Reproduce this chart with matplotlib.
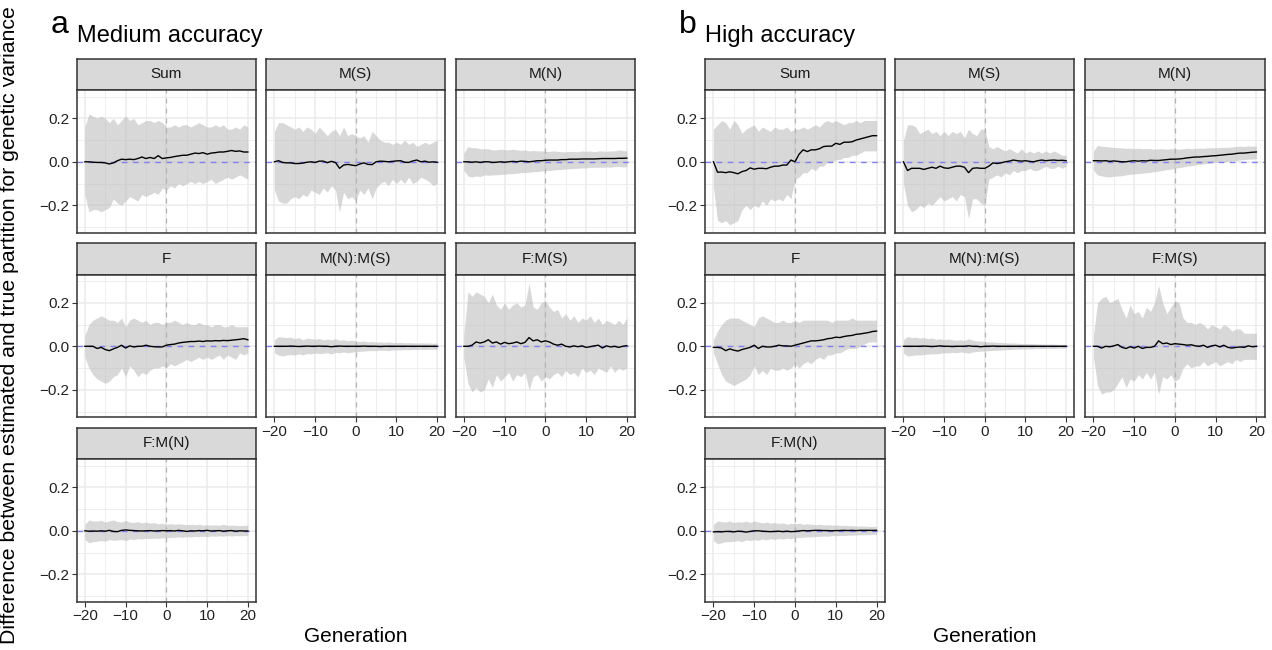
import numpy as np
import matplotlib
matplotlib.use("Agg")
import matplotlib.pyplot as plt
from matplotlib.ticker import FixedLocator

plt.rcParams['font.family'] = ['Liberation Sans', 'DejaVu Sans']

generations = list(range(-20, 21))
facet_names = ["Sum", "M(S)", "M(N)", "F", "M(N):M(S)", "F:M(S)", "F:M(N)"]
group_titles = ["Medium accuracy", "High accuracy"]
group_letters = ["a", "b"]

# ---------------- Medium accuracy ----------------
med_sum_mean = [0.00, 0.00, -0.002, -0.003, -0.003, -0.005, -0.010, -0.005, 0.005, 0.012, 0.010, 0.012, 0.010, 0.015, 0.022, 0.015, 0.020, 0.015, 0.028, 0.015, 0.018,
                0.020, 0.024, 0.027, 0.030, 0.030, 0.035, 0.040, 0.038, 0.042, 0.035, 0.040, 0.042, 0.045, 0.045, 0.048, 0.052, 0.048, 0.050, 0.045, 0.045]
med_sum_hi = [0.16, 0.22, 0.21, 0.20, 0.21, 0.20, 0.18, 0.20, 0.17, 0.19, 0.21, 0.19, 0.20, 0.17, 0.18, 0.19, 0.19, 0.18, 0.19, 0.18, 0.16,
              0.16, 0.17, 0.16, 0.17, 0.17, 0.16, 0.17, 0.18, 0.17, 0.16, 0.16, 0.17, 0.16, 0.17, 0.15, 0.15, 0.16, 0.15, 0.17, 0.16]
med_sum_lo = [-0.15, -0.23, -0.22, -0.22, -0.23, -0.22, -0.21, -0.17, -0.19, -0.20, -0.18, -0.16, -0.17, -0.18, -0.15, -0.16, -0.15, -0.14, -0.15, -0.12, -0.13,
              -0.11, -0.12, -0.10, -0.11, -0.10, -0.09, -0.10, -0.09, -0.10, -0.09, -0.08, -0.10, -0.09, -0.08, -0.07, -0.08, -0.07, -0.06, -0.07, -0.08]

med_ms_mean = [0.00, 0.005, -0.003, -0.005, -0.005, -0.008, -0.008, -0.006, -0.002, 0.000, -0.003, 0.003, 0.003, -0.004, 0.002, -0.003, -0.030, -0.015, -0.012, -0.015, -0.018,
               -0.010, -0.005, -0.012, -0.013, 0.000, 0.003, 0.002, 0.000, 0.002, 0.004, 0.005, -0.002, -0.003, 0.004, 0.008, 0.000, 0.003, -0.002, 0.000, -0.002]
med_ms_hi = [0.14, 0.18, 0.18, 0.17, 0.16, 0.15, 0.16, 0.14, 0.16, 0.15, 0.13, 0.16, 0.14, 0.12, 0.14, 0.15, 0.12, 0.16, 0.12, 0.13, 0.12,
             0.11, 0.12, 0.09, 0.14, 0.12, 0.10, 0.09, 0.09, 0.08, 0.09, 0.08, 0.10, 0.08, 0.09, 0.07, 0.08, 0.09, 0.08, 0.09, 0.10]
med_ms_lo = [-0.13, -0.18, -0.19, -0.19, -0.17, -0.16, -0.17, -0.15, -0.16, -0.13, -0.14, -0.15, -0.12, -0.14, -0.11, -0.13, -0.23, -0.14, -0.17, -0.16, -0.18,
             -0.13, -0.15, -0.12, -0.17, -0.12, -0.10, -0.09, -0.11, -0.08, -0.10, -0.08, -0.10, -0.07, -0.10, -0.09, -0.07, -0.08, -0.09, -0.11, -0.10]

med_mn_mean = [0.000, 0.000, -0.002, 0.000, -0.003, 0.000, 0.000, -0.003, -0.002, 0.000, -0.002, 0.000, 0.002, 0.000, 0.003, 0.002, 0.000, 0.002, 0.005, 0.005, 0.007,
               0.008, 0.008, 0.008, 0.010, 0.010, 0.012, 0.012, 0.012, 0.013, 0.013, 0.013, 0.013, 0.014, 0.015, 0.015, 0.015, 0.015, 0.016, 0.016, 0.017]
med_mn_hi = [0.04, 0.07, 0.065, 0.065, 0.06, 0.06, 0.06, 0.055, 0.055, 0.058, 0.055, 0.055, 0.058, 0.055, 0.052, 0.055, 0.05, 0.052, 0.05, 0.05, 0.048,
             0.048, 0.05, 0.048, 0.046, 0.046, 0.048, 0.047, 0.046, 0.05, 0.048, 0.05, 0.047, 0.05, 0.05, 0.048, 0.05, 0.05, 0.055, 0.052, 0.05]
med_mn_lo = [-0.04, -0.065, -0.07, -0.065, -0.068, -0.06, -0.062, -0.06, -0.06, -0.058, -0.057, -0.055, -0.055, -0.052, -0.05, -0.05, -0.048, -0.046, -0.045, -0.042, -0.04,
             -0.04, -0.038, -0.036, -0.035, -0.033, -0.032, -0.03, -0.03, -0.028, -0.028, -0.026, -0.025, -0.025, -0.025, -0.024, -0.025, -0.022, -0.022, -0.024, -0.022]

med_f_mean = [0.000, 0.000, 0.000, -0.010, -0.005, -0.015, -0.020, -0.012, -0.005, 0.005, -0.008, 0.002, -0.003, 0.000, 0.000, 0.005, 0.000, -0.002, -0.003, -0.003, 0.005,
              0.008, 0.010, 0.015, 0.018, 0.020, 0.022, 0.022, 0.024, 0.022, 0.025, 0.024, 0.026, 0.025, 0.027, 0.026, 0.028, 0.030, 0.032, 0.035, 0.030]
med_f_hi = [0.05, 0.10, 0.12, 0.13, 0.14, 0.13, 0.12, 0.12, 0.11, 0.13, 0.09, 0.12, 0.13, 0.12, 0.11, 0.12, 0.10, 0.11, 0.11, 0.10, 0.11,
            0.11, 0.12, 0.11, 0.10, 0.11, 0.10, 0.10, 0.11, 0.10, 0.10, 0.09, 0.10, 0.10, 0.09, 0.09, 0.10, 0.09, 0.09, 0.09, 0.09]
med_f_lo = [-0.05, -0.10, -0.13, -0.15, -0.16, -0.17, -0.16, -0.14, -0.13, -0.10, -0.14, -0.09, -0.11, -0.14, -0.12, -0.13, -0.11, -0.10, -0.10, -0.09, -0.10,
            -0.08, -0.09, -0.08, -0.07, -0.06, -0.07, -0.06, -0.05, -0.06, -0.05, -0.06, -0.05, -0.04, -0.06, -0.04, -0.05, -0.06, -0.03, -0.04, -0.03]

med_mnms_mean = [0, 0, 0, 0, 0.001, 0, -0.001, 0, 0.001, 0, 0, 0.001, 0, 0, -0.002, 0, 0.001, 0, 0, 0, 0,
                 0, 0.001, 0, 0, 0, -0.001, 0, 0, 0, 0, 0, 0, 0, 0, 0, 0, 0, 0, 0, 0]
med_mnms_hi = [0.03, 0.045, 0.042, 0.04, 0.042, 0.035, 0.04, 0.03, 0.038, 0.035, 0.032, 0.036, 0.03, 0.033, 0.03, 0.035, 0.028, 0.03, 0.026, 0.028, 0.025,
               0.022, 0.024, 0.02, 0.022, 0.02, 0.02, 0.018, 0.02, 0.018, 0.017, 0.018, 0.016, 0.017, 0.016, 0.015, 0.016, 0.015, 0.015, 0.014, 0.015]
med_mnms_lo = [-0.03, -0.04, -0.045, -0.04, -0.038, -0.04, -0.035, -0.04, -0.033, -0.035, -0.03, -0.033, -0.032, -0.03, -0.035, -0.028, -0.03, -0.026, -0.03, -0.027, -0.025,
               -0.023, -0.022, -0.02, -0.02, -0.02, -0.018, -0.018, -0.02, -0.017, -0.016, -0.017, -0.015, -0.016, -0.015, -0.015, -0.014, -0.015, -0.014, -0.013, -0.014]

med_fms_mean = [0.000, 0.000, 0.005, 0.020, 0.015, 0.020, 0.030, 0.015, 0.020, 0.010, 0.018, 0.012, 0.015, 0.020, 0.012, 0.018, 0.040, 0.025, 0.030, 0.020, 0.025,
                0.020, 0.010, 0.005, 0.010, 0.000, -0.003, 0.002, -0.002, 0.002, -0.005, -0.002, 0.002, 0.005, -0.008, 0.002, -0.003, 0.000, -0.005, 0.000, 0.003]
med_fms_hi = [0.05, 0.25, 0.23, 0.25, 0.24, 0.23, 0.20, 0.24, 0.19, 0.17, 0.20, 0.17, 0.19, 0.20, 0.18, 0.19, 0.29, 0.18, 0.17, 0.20, 0.21,
              0.18, 0.16, 0.17, 0.13, 0.15, 0.12, 0.14, 0.11, 0.13, 0.12, 0.14, 0.11, 0.13, 0.10, 0.12, 0.11, 0.10, 0.12, 0.10, 0.13]
med_fms_lo = [-0.05, -0.17, -0.21, -0.19, -0.21, -0.20, -0.15, -0.19, -0.13, -0.16, -0.14, -0.12, -0.16, -0.13, -0.14, -0.12, -0.20, -0.14, -0.13, -0.16, -0.14,
              -0.15, -0.13, -0.12, -0.14, -0.11, -0.13, -0.12, -0.14, -0.10, -0.12, -0.11, -0.13, -0.10, -0.11, -0.12, -0.09, -0.12, -0.10, -0.11, -0.10]

med_fmn_mean = [0, -0.002, -0.001, -0.002, 0, -0.002, 0.002, -0.003, -0.004, 0.002, 0.004, 0.002, 0.001, 0, -0.001, 0, 0.001, -0.001, 0, 0.001, 0,
                0.001, -0.001, 0.002, 0, -0.003, 0, -0.001, 0.001, 0, 0.002, -0.001, 0, 0.001, -0.002, 0, 0.001, -0.002, 0, -0.001, -0.001]
med_fmn_hi = [0.03, 0.05, 0.045, 0.045, 0.048, 0.04, 0.045, 0.05, 0.042, 0.04, 0.048, 0.04, 0.038, 0.042, 0.036, 0.04, 0.035, 0.038, 0.032, 0.035, 0.03,
              0.033, 0.03, 0.032, 0.03, 0.028, 0.03, 0.028, 0.03, 0.026, 0.028, 0.026, 0.027, 0.025, 0.03, 0.025, 0.026, 0.025, 0.024, 0.025, 0.025]
med_fmn_lo = [-0.04, -0.055, -0.05, -0.048, -0.045, -0.048, -0.04, -0.044, -0.042, -0.04, -0.045, -0.038, -0.04, -0.036, -0.038, -0.035, -0.036, -0.033, -0.035, -0.032, -0.033,
              -0.03, -0.03, -0.028, -0.03, -0.027, -0.028, -0.026, -0.027, -0.025, -0.027, -0.024, -0.025, -0.023, -0.025, -0.022, -0.024, -0.022, -0.023, -0.022, -0.022]

# ---------------- High accuracy ----------------
high_sum_mean = [0.000, -0.048, -0.047, -0.050, -0.046, -0.050, -0.055, -0.045, -0.040, -0.028, -0.034, -0.030, -0.030, -0.032, -0.025, -0.020, -0.020, -0.015, -0.015, 0.008, 0.000,
                 0.035, 0.055, 0.047, 0.055, 0.055, 0.060, 0.070, 0.072, 0.072, 0.085, 0.080, 0.090, 0.090, 0.092, 0.100, 0.105, 0.110, 0.115, 0.120, 0.120]
high_sum_hi = [0.15, 0.17, 0.19, 0.18, 0.15, 0.19, 0.17, 0.13, 0.15, 0.16, 0.17, 0.14, 0.16, 0.15, 0.14, 0.16, 0.15, 0.15, 0.16, 0.14, 0.15,
               0.15, 0.16, 0.15, 0.16, 0.17, 0.16, 0.18, 0.19, 0.18, 0.19, 0.18, 0.17, 0.18, 0.18, 0.19, 0.18, 0.19, 0.19, 0.19, 0.19]
high_sum_lo = [-0.12, -0.27, -0.28, -0.27, -0.29, -0.28, -0.27, -0.22, -0.20, -0.22, -0.20, -0.21, -0.18, -0.20, -0.17, -0.18, -0.17, -0.18, -0.15, -0.17, -0.08,
               -0.07, -0.05, -0.05, -0.03, -0.04, -0.02, -0.02, 0.00, 0.00, 0.01, 0.01, 0.02, 0.02, 0.03, 0.03, 0.04, 0.05, 0.05, 0.05, 0.05]

high_ms_mean = [0.000, -0.040, -0.030, -0.030, -0.030, -0.035, -0.030, -0.025, -0.030, -0.020, -0.028, -0.030, -0.025, -0.020, -0.020, -0.025, -0.050, -0.030, -0.028, -0.030, -0.030,
                -0.020, -0.005, -0.008, -0.005, 0.000, 0.003, 0.008, 0.005, 0.003, 0.005, 0.002, 0.000, 0.005, 0.008, 0.005, 0.007, 0.008, 0.006, 0.007, 0.005]
high_ms_hi = [0.10, 0.17, 0.17, 0.16, 0.13, 0.14, 0.15, 0.13, 0.14, 0.12, 0.14, 0.12, 0.14, 0.13, 0.14, 0.11, 0.15, 0.13, 0.12, 0.15, 0.15,
              0.07, 0.06, 0.07, 0.06, 0.05, 0.06, 0.05, 0.04, 0.06, 0.04, 0.05, 0.04, 0.05, 0.04, 0.05, 0.04, 0.05, 0.04, 0.03, 0.03]
high_ms_lo = [-0.10, -0.20, -0.23, -0.22, -0.20, -0.21, -0.19, -0.20, -0.18, -0.16, -0.18, -0.17, -0.16, -0.18, -0.15, -0.16, -0.26, -0.17, -0.17, -0.19, -0.20,
              -0.08, -0.07, -0.06, -0.07, -0.05, -0.06, -0.04, -0.05, -0.04, -0.04, -0.03, -0.04, -0.04, -0.03, -0.02, -0.03, -0.03, -0.02, -0.03, -0.02]

high_mn_mean = [0.005, 0.005, 0.004, 0.005, 0.002, 0.004, 0.002, 0.000, 0.000, 0.003, 0.005, 0.003, 0.005, 0.004, 0.007, 0.006, 0.006, 0.008, 0.010, 0.012, 0.012,
                0.013, 0.015, 0.018, 0.020, 0.022, 0.022, 0.024, 0.025, 0.027, 0.028, 0.030, 0.032, 0.034, 0.035, 0.038, 0.040, 0.040, 0.042, 0.044, 0.045]
high_mn_hi = [0.05, 0.075, 0.072, 0.07, 0.068, 0.066, 0.065, 0.064, 0.062, 0.063, 0.06, 0.062, 0.06, 0.061, 0.06, 0.058, 0.06, 0.06, 0.058, 0.06, 0.06,
              0.058, 0.06, 0.062, 0.06, 0.062, 0.063, 0.062, 0.064, 0.065, 0.064, 0.066, 0.066, 0.067, 0.068, 0.07, 0.072, 0.07, 0.073, 0.072, 0.072]
high_mn_lo = [-0.04, -0.06, -0.065, -0.068, -0.07, -0.066, -0.065, -0.064, -0.06, -0.058, -0.056, -0.054, -0.052, -0.05, -0.048, -0.045, -0.042, -0.04, -0.036, -0.034, -0.03,
              -0.027, -0.024, -0.02, -0.018, -0.015, -0.012, -0.01, -0.008, -0.005, -0.003, -0.002, 0.0, 0.002, 0.004, 0.006, 0.008, 0.01, 0.012, 0.012, 0.015]

high_f_mean = [-0.005, -0.005, -0.008, -0.020, -0.012, -0.018, -0.022, -0.015, -0.010, -0.005, 0.005, -0.010, 0.000, -0.003, -0.003, 0.000, 0.005, 0.002, 0.002, 0.000, 0.005,
               0.010, 0.015, 0.020, 0.025, 0.025, 0.027, 0.030, 0.035, 0.037, 0.042, 0.040, 0.045, 0.048, 0.050, 0.055, 0.057, 0.060, 0.063, 0.068, 0.070]
high_f_hi = [0.03, 0.07, 0.10, 0.12, 0.13, 0.13, 0.13, 0.12, 0.11, 0.10, 0.09, 0.13, 0.14, 0.13, 0.12, 0.11, 0.11, 0.12, 0.11, 0.11, 0.12,
             0.11, 0.12, 0.12, 0.12, 0.12, 0.12, 0.12, 0.12, 0.11, 0.12, 0.12, 0.12, 0.12, 0.13, 0.12, 0.12, 0.12, 0.12, 0.12, 0.12]
high_f_lo = [-0.03, -0.08, -0.13, -0.16, -0.17, -0.18, -0.17, -0.16, -0.15, -0.13, -0.09, -0.13, -0.11, -0.13, -0.10, -0.11, -0.11, -0.10, -0.11, -0.10, -0.08,
             -0.10, -0.08, -0.07, -0.08, -0.06, -0.05, -0.06, -0.04, -0.04, -0.03, -0.03, -0.02, -0.01, -0.01, -0.01, 0.00, 0.01, 0.02, 0.02, 0.02]

high_mnms_mean = [0, 0, 0, 0, 0, 0.001, 0, -0.001, 0, 0.002, 0, 0, -0.001, 0, 0, 0, 0.002, 0, 0, -0.002, 0,
                  0, 0.001, 0, 0, 0, 0, 0, 0, 0, 0, 0, 0, 0, 0, 0, 0, 0, 0, 0, 0]
high_mnms_hi = [0.03, 0.045, 0.04, 0.042, 0.038, 0.04, 0.035, 0.038, 0.032, 0.035, 0.03, 0.034, 0.03, 0.028, 0.03, 0.027, 0.035, 0.028, 0.025, 0.024, 0.022,
                0.02, 0.02, 0.018, 0.018, 0.016, 0.015, 0.015, 0.014, 0.013, 0.013, 0.012, 0.012, 0.011, 0.011, 0.01, 0.01, 0.01, 0.009, 0.009, 0.009]
high_mnms_lo = [-0.03, -0.045, -0.042, -0.04, -0.04, -0.038, -0.036, -0.034, -0.035, -0.032, -0.03, -0.03, -0.028, -0.03, -0.026, -0.028, -0.032, -0.026, -0.024, -0.022, -0.022,
                -0.02, -0.019, -0.018, -0.017, -0.016, -0.015, -0.014, -0.013, -0.013, -0.012, -0.012, -0.011, -0.011, -0.01, -0.01, -0.01, -0.009, -0.009, -0.009, -0.009]

high_fms_mean = [0.000, 0.000, -0.008, 0.000, -0.002, 0.002, 0.008, -0.005, -0.010, -0.002, -0.008, 0.000, -0.010, -0.005, -0.005, 0.000, 0.025, 0.012, 0.015, 0.008, 0.012,
                 0.010, 0.008, 0.005, 0.007, 0.002, 0.000, 0.005, -0.005, 0.002, 0.005, -0.003, 0.005, -0.005, -0.008, -0.005, -0.003, -0.005, 0.002, -0.002, 0.000]
high_fms_hi = [0.05, 0.20, 0.22, 0.23, 0.20, 0.21, 0.22, 0.17, 0.13, 0.19, 0.15, 0.16, 0.13, 0.18, 0.16, 0.20, 0.28, 0.20, 0.15, 0.18, 0.21,
               0.20, 0.13, 0.11, 0.11, 0.10, 0.11, 0.10, 0.08, 0.10, 0.09, 0.08, 0.10, 0.09, 0.07, 0.08, 0.08, 0.06, 0.06, 0.06, 0.06]
high_fms_lo = [-0.05, -0.18, -0.22, -0.21, -0.21, -0.20, -0.17, -0.14, -0.19, -0.15, -0.16, -0.13, -0.15, -0.12, -0.15, -0.12, -0.22, -0.14, -0.15, -0.13, -0.16,
               -0.15, -0.10, -0.08, -0.10, -0.09, -0.09, -0.07, -0.09, -0.08, -0.07, -0.09, -0.08, -0.07, -0.08, -0.06, -0.07, -0.06, -0.06, -0.06, -0.06]

high_fmn_mean = [-0.005, -0.004, -0.005, -0.003, -0.003, -0.005, -0.002, -0.003, -0.006, -0.003, 0.000, 0.000, -0.002, -0.003, -0.004, -0.003, -0.002, -0.004, -0.002, -0.004, -0.003,
                 -0.001, 0.001, 0.000, 0.001, 0.002, 0.002, 0.001, 0.001, 0.000, 0.001, 0.001, 0.002, 0.001, 0.002, 0.001, 0.002, 0.002, 0.002, 0.002, 0.002]
high_fmn_hi = [0.03, 0.045, 0.042, 0.04, 0.045, 0.038, 0.042, 0.04, 0.044, 0.038, 0.045, 0.04, 0.036, 0.04, 0.035, 0.038, 0.034, 0.036, 0.03, 0.034, 0.032,
               0.035, 0.03, 0.032, 0.03, 0.028, 0.03, 0.027, 0.028, 0.026, 0.026, 0.025, 0.025, 0.024, 0.024, 0.022, 0.022, 0.022, 0.02, 0.02, 0.02]
high_fmn_lo = [-0.045, -0.06, -0.055, -0.05, -0.05, -0.048, -0.045, -0.05, -0.042, -0.045, -0.04, -0.044, -0.038, -0.042, -0.036, -0.04, -0.035, -0.038, -0.034, -0.036, -0.032,
               -0.03, -0.03, -0.028, -0.028, -0.026, -0.026, -0.024, -0.025, -0.022, -0.023, -0.021, -0.022, -0.02, -0.02, -0.019, -0.019, -0.018, -0.018, -0.017, -0.017]

groups = [
    [(med_sum_mean, med_sum_lo, med_sum_hi), (med_ms_mean, med_ms_lo, med_ms_hi), (med_mn_mean, med_mn_lo, med_mn_hi),
     (med_f_mean, med_f_lo, med_f_hi), (med_mnms_mean, med_mnms_lo, med_mnms_hi), (med_fms_mean, med_fms_lo, med_fms_hi),
     (med_fmn_mean, med_fmn_lo, med_fmn_hi)],
    [(high_sum_mean, high_sum_lo, high_sum_hi), (high_ms_mean, high_ms_lo, high_ms_hi), (high_mn_mean, high_mn_lo, high_mn_hi),
     (high_f_mean, high_f_lo, high_f_hi), (high_mnms_mean, high_mnms_lo, high_mnms_hi), (high_fms_mean, high_fms_lo, high_fms_hi),
     (high_fmn_mean, high_fmn_lo, high_fmn_hi)],
]

# ---------------- layout (pixels) ----------------
W, H = 1272, 650
fig = plt.figure(figsize=(W / 100, H / 100), dpi=100)

def rect(x0, y0, x1, y1):
    return [x0 / W, 1 - y1 / H, (x1 - x0) / W, (y1 - y0) / H]

col_x = [
    [(76.7, 256.0), (266.3, 445.3), (455.7, 635.0)],
    [(705.3, 884.7), (895.3, 1074.3), (1085.3, 1264.5)],
]
strip_y = [(58.7, 90.0), (243.2, 274.5), (427.7, 459.0)]
plot_y = [(90.0, 232.5), (274.5, 417.0), (459.0, 601.5)]

DARK = "#333333"
GRID = "#EBEBEB"
x = np.array(generations)

for g in range(2):
    for k, name in enumerate(facet_names):
        r, c = divmod(k, 3)
        x0, x1 = col_x[g][c]
        sy0, sy1 = strip_y[r]
        py0, py1 = plot_y[r]
        # strip
        sax = fig.add_axes(rect(x0, sy0, x1, sy1))
        sax.set_facecolor("#D9D9D9")
        sax.set_xticks([]); sax.set_yticks([])
        for sp in sax.spines.values():
            sp.set_color(DARK); sp.set_linewidth(1.1)
        sax.text(0.5, 0.5, name, ha="center", va="center", fontsize=11,
                 color="#1A1A1A", transform=sax.transAxes)
        # panel
        ax = fig.add_axes(rect(x0, py0, x1, py1))
        mean, lo, hi = groups[g][k]
        ax.set_xlim(-22, 22)
        ax.set_ylim(-0.325, 0.33)
        ax.xaxis.set_major_locator(FixedLocator([-20, -10, 0, 10, 20]))
        ax.xaxis.set_minor_locator(FixedLocator([-15, -5, 5, 15]))
        ax.yaxis.set_major_locator(FixedLocator([-0.2, 0.0, 0.2]))
        ax.yaxis.set_minor_locator(FixedLocator([-0.3, -0.1, 0.1, 0.3]))
        ax.grid(which="major", color=GRID, lw=1.1, zorder=0)
        ax.grid(which="minor", color=GRID, lw=0.6, zorder=0)
        ax.set_axisbelow(True)
        ax.fill_between(x, lo, hi, color="#BEBEBE", alpha=0.6, lw=0, zorder=1)
        ax.axhline(0, color="#8080F0", lw=1.0, ls=(0, (4, 4)), zorder=2)
        ax.axvline(0, color="#B3B3B3", lw=0.9, ls=(0, (4, 4)), zorder=2)
        ax.plot(x, mean, color="black", lw=1.0, zorder=3)
        for sp in ax.spines.values():
            sp.set_color(DARK); sp.set_linewidth(1.1)
        ax.tick_params(which="major", length=3.5, width=0.8, color=DARK,
                       labelsize=11, labelcolor="#222222", pad=2)
        ax.tick_params(which="minor", length=0)
        show_x = (k == 6) or (k in (4, 5))
        show_y = (c == 0)
        if show_x:
            ax.set_xticklabels(["\u221220", "\u221210", "0", "10", "20"])
        else:
            ax.tick_params(axis="x", which="major", length=0, labelbottom=False)
        if show_y:
            ax.set_yticklabels(["\u22120.2", "0.0", "0.2"])
        else:
            ax.tick_params(axis="y", which="major", length=0, labelleft=False)

    # group title + letter
    gx0 = col_x[g][0][0]
    gx1 = col_x[g][2][1]
    fig.text(gx0 / W, 1 - 42 / H, group_titles[g], fontsize=17, ha="left", va="baseline")
    fig.text((gx0 - 26) / W, 1 - 33 / H, group_letters[g], fontsize=23, ha="left", va="baseline")
    fig.text(((gx0 + gx1) / 2) / W, 1 - 637 / H, "Generation", fontsize=15, ha="center", va="center")

fig.text(10 / W, 0.5, "Difference between estimated and true partition for genetic variance",
         rotation=90, fontsize=15.3, ha="center", va="center")

fig.savefig("out.png", dpi=100)
